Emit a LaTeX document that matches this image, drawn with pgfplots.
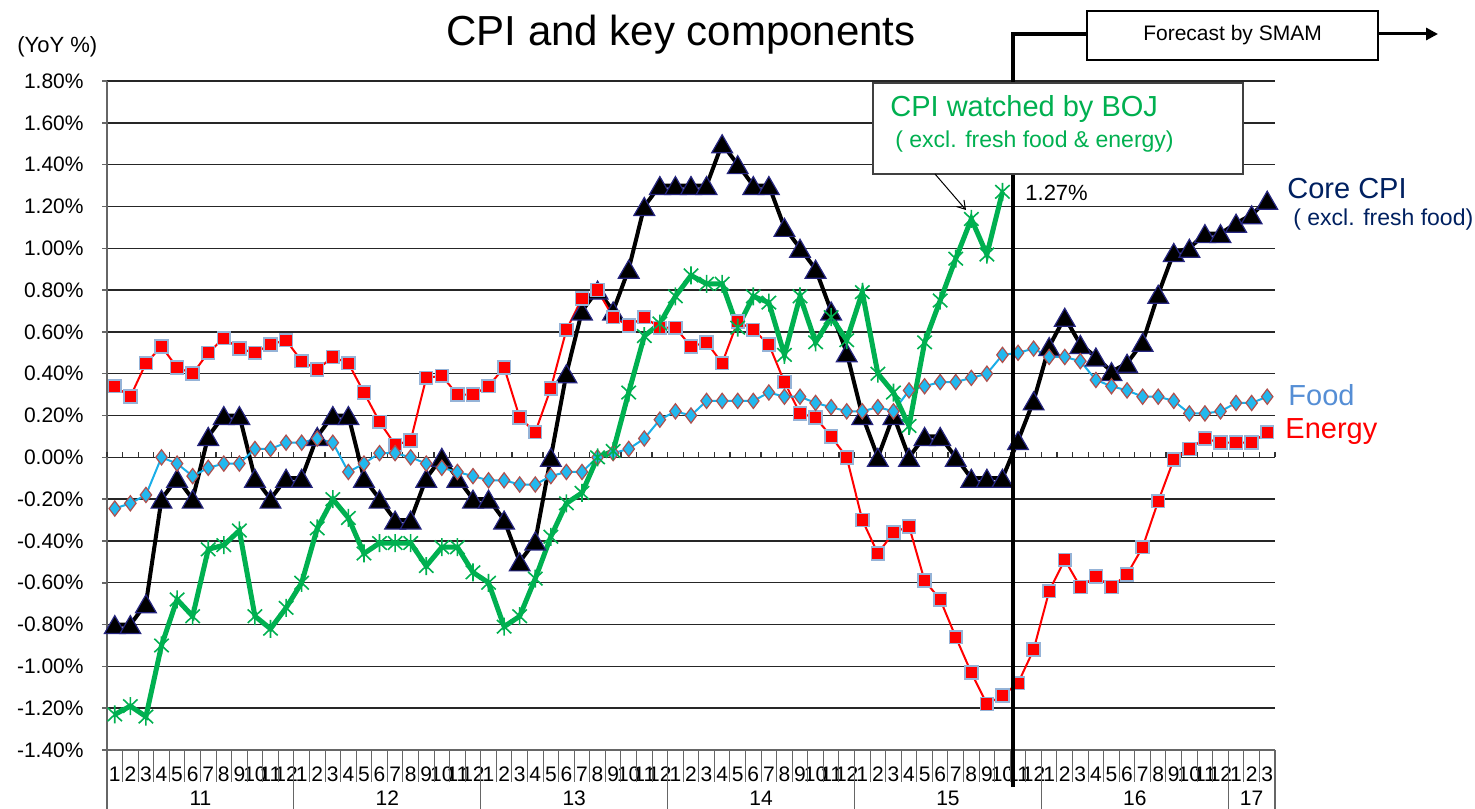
\documentclass[border=0pt]{standalone}
\usepackage{pgfplots}
\pgfplotsset{compat=1.18}
\usepackage{pgfplotstable}
\usepackage{fontspec}
\setmainfont{Liberation Sans}
\usetikzlibrary{arrows.meta}

\definecolor{boj}{HTML}{00B050}
\definecolor{navy}{HTML}{002060}
\definecolor{foodtxt}{HTML}{558ED5}
\definecolor{foodline}{HTML}{1AAEE8}
\definecolor{foodfill}{HTML}{22B8EE}
\definecolor{foodedge}{HTML}{B0504D}
\definecolor{enedge}{HTML}{95B3D7}
\definecolor{coreedge}{HTML}{262680}

\pgfdeclareplotmark{xstar}{%
  \pgfpathmoveto{\pgfqpoint{0pt}{\pgfplotmarksize}}%
  \pgfpathlineto{\pgfqpoint{0pt}{-\pgfplotmarksize}}%
  \pgfpathmoveto{\pgfpoint{-0.8\pgfplotmarksize}{0.75\pgfplotmarksize}}%
  \pgfpathlineto{\pgfpoint{0.8\pgfplotmarksize}{-0.75\pgfplotmarksize}}%
  \pgfpathmoveto{\pgfpoint{-0.8\pgfplotmarksize}{-0.75\pgfplotmarksize}}%
  \pgfpathlineto{\pgfpoint{0.8\pgfplotmarksize}{0.75\pgfplotmarksize}}%
  \pgfusepathqstroke}

% Core CPI (excl. fresh food), Jan 2011 - Mar 2017
\pgfplotstableread{
v
-0.8
-0.8
-0.7
-0.2
-0.1
-0.2
0.1
0.2
0.2
-0.1
-0.2
-0.1
-0.1
0.1
0.2
0.2
-0.1
-0.2
-0.3
-0.3
-0.1
0.0
-0.1
-0.2
-0.2
-0.3
-0.5
-0.4
0.0
0.4
0.7
0.8
0.7
0.9
1.2
1.3
1.3
1.3
1.3
1.5
1.4
1.3
1.3
1.1
1.0
0.9
0.7
0.5
0.2
0.0
0.2
0.0
0.1
0.1
0.0
-0.1
-0.1
-0.1
0.08
0.27
0.53
0.67
0.54
0.48
0.41
0.45
0.55
0.78
0.98
1.00
1.07
1.07
1.12
1.16
1.23
}\core

% CPI watched by BOJ (excl. fresh food & energy), Jan 2011 - Oct 2015
\pgfplotstableread{
v
-1.23
-1.19
-1.24
-0.90
-0.68
-0.76
-0.44
-0.42
-0.35
-0.76
-0.82
-0.72
-0.60
-0.34
-0.20
-0.29
-0.46
-0.41
-0.41
-0.41
-0.52
-0.43
-0.43
-0.55
-0.60
-0.81
-0.76
-0.58
-0.38
-0.22
-0.17
0.00
0.03
0.31
0.58
0.64
0.77
0.87
0.83
0.83
0.62
0.77
0.74
0.49
0.77
0.55
0.67
0.56
0.79
0.40
0.31
0.15
0.55
0.75
0.95
1.14
0.97
1.27
}\boj

% Food
\pgfplotstableread{
v
-0.245
-0.22
-0.18
0.00
-0.03
-0.09
-0.05
-0.03
-0.03
0.04
0.04
0.07
0.07
0.09
0.07
-0.07
-0.03
0.02
0.02
0.00
-0.03
-0.05
-0.07
-0.09
-0.11
-0.11
-0.13
-0.13
-0.09
-0.07
-0.07
0.00
0.02
0.04
0.09
0.18
0.22
0.20
0.27
0.27
0.27
0.27
0.31
0.29
0.29
0.26
0.24
0.22
0.22
0.24
0.22
0.32
0.34
0.36
0.36
0.38
0.40
0.49
0.50
0.52
0.48
0.48
0.46
0.37
0.34
0.32
0.29
0.29
0.27
0.21
0.21
0.22
0.26
0.26
0.29
}\food

% Energy
\pgfplotstableread{
v
0.34
0.29
0.45
0.53
0.43
0.40
0.50
0.57
0.52
0.50
0.54
0.56
0.46
0.42
0.48
0.45
0.31
0.17
0.06
0.08
0.38
0.39
0.30
0.30
0.34
0.43
0.19
0.12
0.33
0.61
0.76
0.80
0.67
0.63
0.67
0.62
0.62
0.53
0.55
0.45
0.65
0.61
0.54
0.36
0.21
0.19
0.10
0.00
-0.30
-0.46
-0.36
-0.33
-0.59
-0.68
-0.86
-1.03
-1.18
-1.14
-1.08
-0.92
-0.64
-0.49
-0.62
-0.57
-0.62
-0.56
-0.43
-0.21
-0.01
0.04
0.09
0.07
0.07
0.07
0.12
}\energy

\begin{document}
\begin{tikzpicture}
\begin{axis}[
  at={(53.5pt,-375pt)}, anchor=south west,
  width=584pt, height=334.5pt, scale only axis,
  xmin=0, xmax=75, ymin=-1.4, ymax=1.8,
  clip=false,
  axis x line*=bottom, axis y line*=left,
  axis line style={black!60, line width=0.75pt},
  xtick={0.5,1.5,...,74.5},
  xticklabels={1,2,3,4,5,6,7,8,9,10,11,12,1,2,3,4,5,6,7,8,9,10,11,12,1,2,3,4,5,6,7,8,9,10,11,12,1,2,3,4,5,6,7,8,9,10,11,12,1,2,3,4,5,6,7,8,9,10,11,12,1,2,3,4,5,6,7,8,9,10,11,12,1,2,3},
  xtick style={draw=none},
  xticklabel style={font=\fontsize{10.5}{12}\selectfont, anchor=base, inner sep=0pt, yshift=-13pt},
  ytick={-1.4,-1.2,-1,-0.8,-0.6,-0.4,-0.2,0,0.2,0.4,0.6,0.8,1,1.2,1.4,1.6,1.8},
  yticklabel={\pgfmathprintnumber[fixed,fixed zerofill,precision=2]{\tick}\%},
  /pgf/number format/assume math mode=true,
  yticklabel style={font=\fontsize{10.5}{12}\selectfont, anchor=east, inner sep=0pt, xshift=-9pt},
  ytick style={black!60, line width=0.75pt},
  tick align=outside, major tick length=2.5pt,
  ymajorgrids, grid style={black!85, line width=0.7pt},
]
% zero line tick marks
\pgfplotsinvokeforeach{0,...,75}{\draw[black!80, line width=0.6pt] (axis cs:#1,0) -- ([yshift=2.5pt]axis cs:#1,0);}
% category table separators
\pgfplotsinvokeforeach{0,...,75}{\draw[black!60, line width=0.5pt] (axis cs:#1,-1.4) -- ([yshift=-16pt]axis cs:#1,-1.4);}
\pgfplotsinvokeforeach{0,12,24,36,48,60,72,75}{\draw[black!60, line width=0.6pt] (axis cs:#1,-1.4) -- ([yshift=-30pt]axis cs:#1,-1.4);}
\node[font=\fontsize{10.5}{12}\selectfont, anchor=base, inner sep=0pt] at ([yshift=-27.8pt]axis cs:6,-1.4) {11};
\node[font=\fontsize{10.5}{12}\selectfont, anchor=base, inner sep=0pt] at ([yshift=-27.8pt]axis cs:18,-1.4) {12};
\node[font=\fontsize{10.5}{12}\selectfont, anchor=base, inner sep=0pt] at ([yshift=-27.8pt]axis cs:30,-1.4) {13};
\node[font=\fontsize{10.5}{12}\selectfont, anchor=base, inner sep=0pt] at ([yshift=-27.8pt]axis cs:42,-1.4) {14};
\node[font=\fontsize{10.5}{12}\selectfont, anchor=base, inner sep=0pt] at ([yshift=-27.8pt]axis cs:54,-1.4) {15};
\node[font=\fontsize{10.5}{12}\selectfont, anchor=base, inner sep=0pt] at ([yshift=-27.8pt]axis cs:66,-1.4) {16};
\node[font=\fontsize{10.5}{12}\selectfont, anchor=base, inner sep=0pt] at ([yshift=-27.8pt]axis cs:73.5,-1.4) {17};

\addplot[black, line width=2pt, mark=triangle*, mark size=6pt,
  mark options={fill=black, draw=coreedge, line width=0.6pt, yshift=-1.5pt}]
  table[x expr=\coordindex+0.5, y=v] {\core};
\addplot[red, line width=1pt, mark=square*, mark size=3.2pt,
  mark options={fill=red, draw=enedge, line width=0.8pt}]
  table[x expr=\coordindex+0.5, y=v] {\energy};
\addplot[foodline, line width=1pt, mark=diamond*, mark size=3.8pt,
  mark options={fill=foodfill, draw=foodedge, line width=0.6pt}]
  table[x expr=\coordindex+0.5, y=v] {\food};
\addplot[boj, line width=2.5pt, mark=xstar, mark size=4.5pt,
  mark options={line width=0.8pt}]
  table[x expr=\coordindex+0.5, y=v] {\boj};
\end{axis}

% forecast divider
\draw[black, line width=2pt] (506.5pt,-393.5pt) -- (506.5pt,-17pt) -- (543.5pt,-17pt);
\draw[black, line width=0.8pt, fill=white] (543.5pt,-5.5pt) rectangle (689pt,-30pt);
\node[font=\fontsize{10.5}{12}\selectfont] at (616.25pt,-17.75pt) {Forecast by SMAM};
\draw[black, line width=1.5pt, -{Triangle[length=6pt,width=6pt]}] (689pt,-17pt) -- (719pt,-17pt);

% BOJ callout
\draw[black!75, line width=0.8pt, fill=white] (436.5pt,-41.5pt) rectangle (621.5pt,-87pt);
\node[font=\fontsize{14.5}{16}\selectfont, text=boj, anchor=base west, inner sep=0pt] at (445pt,-58.5pt) {CPI watched by BOJ};
\node[font=\fontsize{11.5}{13}\selectfont, text=boj, anchor=base west, inner sep=0pt] at (447.5pt,-73.5pt) {( excl. fresh food \& energy)};
\draw[black, line width=0.5pt, -{Straight Barb[length=4pt,width=5pt]}] (467.5pt,-87pt) -- (483pt,-105pt);
\node[font=\fontsize{11}{12}\selectfont, anchor=base west, inner sep=0pt] at (512.5pt,-100pt) {1.27\%};

% title and labels
\node[font=\fontsize{21}{24}\selectfont, anchor=base, inner sep=0pt] at (340.5pt,-23pt) {CPI and key components};
\node[font=\fontsize{11}{12}\selectfont, anchor=base west, inner sep=0pt] at (8.5pt,-26.5pt) {(YoY \%)};
\node[font=\fontsize{14.5}{16}\selectfont, text=navy, anchor=base west, inner sep=0pt] at (643.5pt,-99pt) {Core CPI};
\node[font=\fontsize{11.5}{13}\selectfont, text=navy, anchor=base west, inner sep=0pt] at (646.5pt,-112.5pt) {( excl. fresh food)};
\node[font=\fontsize{14.5}{16}\selectfont, text=foodtxt, anchor=base west, inner sep=0pt] at (644pt,-202.5pt) {Food};
\node[font=\fontsize{14.5}{16}\selectfont, text=red, anchor=base west, inner sep=0pt] at (642.5pt,-219pt) {Energy};

\pgfresetboundingbox
\path[use as bounding box] (0pt,0pt) rectangle (737.5pt,-404pt);
\end{tikzpicture}
\end{document}
